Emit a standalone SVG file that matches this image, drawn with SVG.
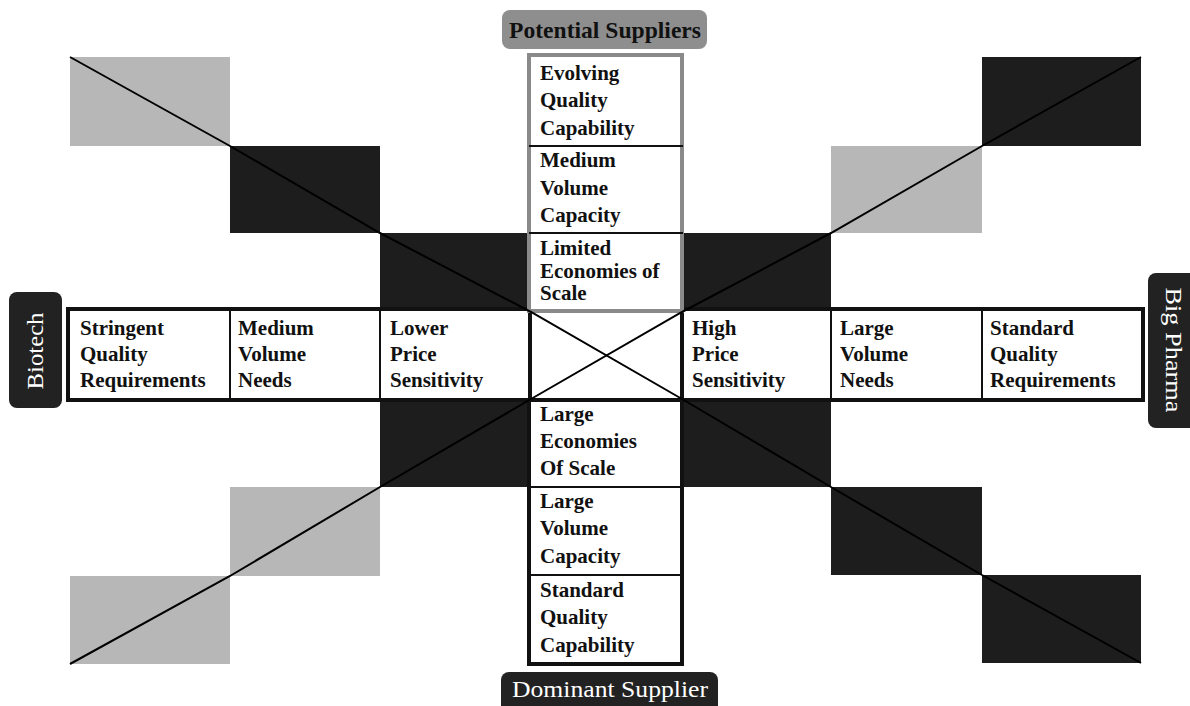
<svg xmlns="http://www.w3.org/2000/svg" width="1190" height="706" viewBox="0 0 1190 706">
<style>
  .dark { fill: #1d1d1d; }
  .light { fill: #b7b7b7; }
  .diag { stroke: #000; stroke-width: 2; fill: none; }
  .cell { font-family: "Liberation Serif", "Times New Roman", serif; font-weight: bold; font-size: 21px; fill: #111; }
  .lbl { font-family: "Liberation Serif", "Times New Roman", serif; font-size: 23px; }
  .thin { stroke: #111; stroke-width: 2; }
</style>
<rect width="1190" height="706" fill="#fff"/>
<g id="squares">
  <rect class="light" x="70" y="57" width="160" height="89"/>
  <rect class="dark" x="230" y="146" width="150" height="87"/>
  <rect class="dark" x="380" y="233" width="150" height="79"/>
  <rect class="dark" x="982" y="57" width="159" height="89"/>
  <rect class="light" x="831" y="146" width="151" height="87"/>
  <rect class="dark" x="683" y="233" width="148" height="79"/>
  <rect class="dark" x="380" y="400" width="150" height="87"/>
  <rect class="light" x="230" y="487" width="150" height="89"/>
  <rect class="light" x="70" y="576" width="160" height="88"/>
  <rect class="dark" x="683" y="400" width="148" height="87"/>
  <rect class="dark" x="831" y="487" width="151" height="88"/>
  <rect class="dark" x="982" y="575" width="159" height="88"/>
</g>
<g id="horizontal-bar">
  <rect x="68" y="309" width="1075" height="91" fill="#fff" stroke="#111" stroke-width="4"/>
  <line class="thin" x1="230" y1="309" x2="230" y2="400"/>
  <line class="thin" x1="380" y1="309" x2="380" y2="400"/>
  <line class="thin" x1="831" y1="309" x2="831" y2="400"/>
  <line class="thin" x1="982" y1="309" x2="982" y2="400"/>
  <line stroke="#111" stroke-width="4" x1="530" y1="309" x2="530" y2="400"/>
  <line stroke="#111" stroke-width="4" x1="682" y1="309" x2="682" y2="400"/>
</g>
<g id="upper-box">
  <rect x="529" y="55" width="153" height="256" fill="#fff" stroke="#8a8a8a" stroke-width="4"/>
  <line class="thin" x1="529" y1="146" x2="683" y2="146"/>
  <line class="thin" x1="529" y1="233" x2="683" y2="233"/>
</g>
<g id="lower-box">
  <rect x="529" y="400" width="153" height="264" fill="#fff" stroke="#111" stroke-width="4"/>
  <line class="thin" x1="529" y1="487" x2="683" y2="487"/>
  <line class="thin" x1="529" y1="575" x2="683" y2="575"/>
</g>
<g id="connectors">
  <polyline class="diag" points="70,57 230,146 380,233 531,312 682,399 831,487 982,575 1141,663"/>
  <polyline class="diag" points="70,664 230,576 380,487 531,399 682,312 831,233 982,146 1141,57"/>
</g>
<g id="node-evolving"><text class="cell" x="540" y="80">Evolving</text><text class="cell" x="540" y="107">Quality</text><text class="cell" x="540" y="135">Capability</text></g>
<g id="node-medium-capacity"><text class="cell" x="540" y="167">Medium</text><text class="cell" x="540" y="195">Volume</text><text class="cell" x="540" y="222">Capacity</text></g>
<g id="node-limited"><text class="cell" x="540" y="255">Limited</text><text class="cell" x="540" y="278">Economies of</text><text class="cell" x="540" y="300">Scale</text></g>
<g id="node-large-eos"><text class="cell" x="540" y="421">Large</text><text class="cell" x="540" y="448">Economies</text><text class="cell" x="540" y="475">Of Scale</text></g>
<g id="node-large-capacity"><text class="cell" x="540" y="508">Large</text><text class="cell" x="540" y="535">Volume</text><text class="cell" x="540" y="563">Capacity</text></g>
<g id="node-standard-capability"><text class="cell" x="540" y="597">Standard</text><text class="cell" x="540" y="624">Quality</text><text class="cell" x="540" y="652">Capability</text></g>
<g id="node-stringent"><text class="cell" x="80" y="335">Stringent</text><text class="cell" x="80" y="361">Quality</text><text class="cell" x="80" y="387">Requirements</text></g>
<g id="node-medium-needs"><text class="cell" x="238" y="335">Medium</text><text class="cell" x="238" y="361">Volume</text><text class="cell" x="238" y="387">Needs</text></g>
<g id="node-lower-price"><text class="cell" x="390" y="335">Lower</text><text class="cell" x="390" y="361">Price</text><text class="cell" x="390" y="387">Sensitivity</text></g>
<g id="node-high-price"><text class="cell" x="692" y="335">High</text><text class="cell" x="692" y="361">Price</text><text class="cell" x="692" y="387">Sensitivity</text></g>
<g id="node-large-needs"><text class="cell" x="840" y="335">Large</text><text class="cell" x="840" y="361">Volume</text><text class="cell" x="840" y="387">Needs</text></g>
<g id="node-standard-req"><text class="cell" x="990" y="335">Standard</text><text class="cell" x="990" y="361">Quality</text><text class="cell" x="990" y="387">Requirements</text></g>
<g id="label-potential">
  <rect x="502" y="10" width="205" height="39" rx="8" fill="#8e8e8e"/>
  <text class="lbl" x="605" y="38" text-anchor="middle" font-weight="bold" fill="#111" textLength="192" lengthAdjust="spacingAndGlyphs">Potential Suppliers</text>
</g>
<g id="label-dominant">
  <rect x="501" y="672" width="217" height="42" rx="8" fill="#222"/>
  <text class="lbl" x="610" y="697" text-anchor="middle" fill="#fff" textLength="196" lengthAdjust="spacingAndGlyphs">Dominant Supplier</text>
</g>
<g id="label-biotech">
  <rect x="9" y="292" width="53" height="116" rx="8" fill="#222"/>
  <text class="lbl" transform="translate(43,351) rotate(-90)" text-anchor="middle" fill="#fff" textLength="77" lengthAdjust="spacingAndGlyphs">Biotech</text>
</g>
<g id="label-bigpharma">
  <rect x="1148" y="273" width="55" height="155" rx="8" fill="#222"/>
  <text class="lbl" transform="translate(1166,350) rotate(90)" text-anchor="middle" fill="#fff" textLength="125" lengthAdjust="spacingAndGlyphs">Big Pharma</text>
</g>
</svg>
